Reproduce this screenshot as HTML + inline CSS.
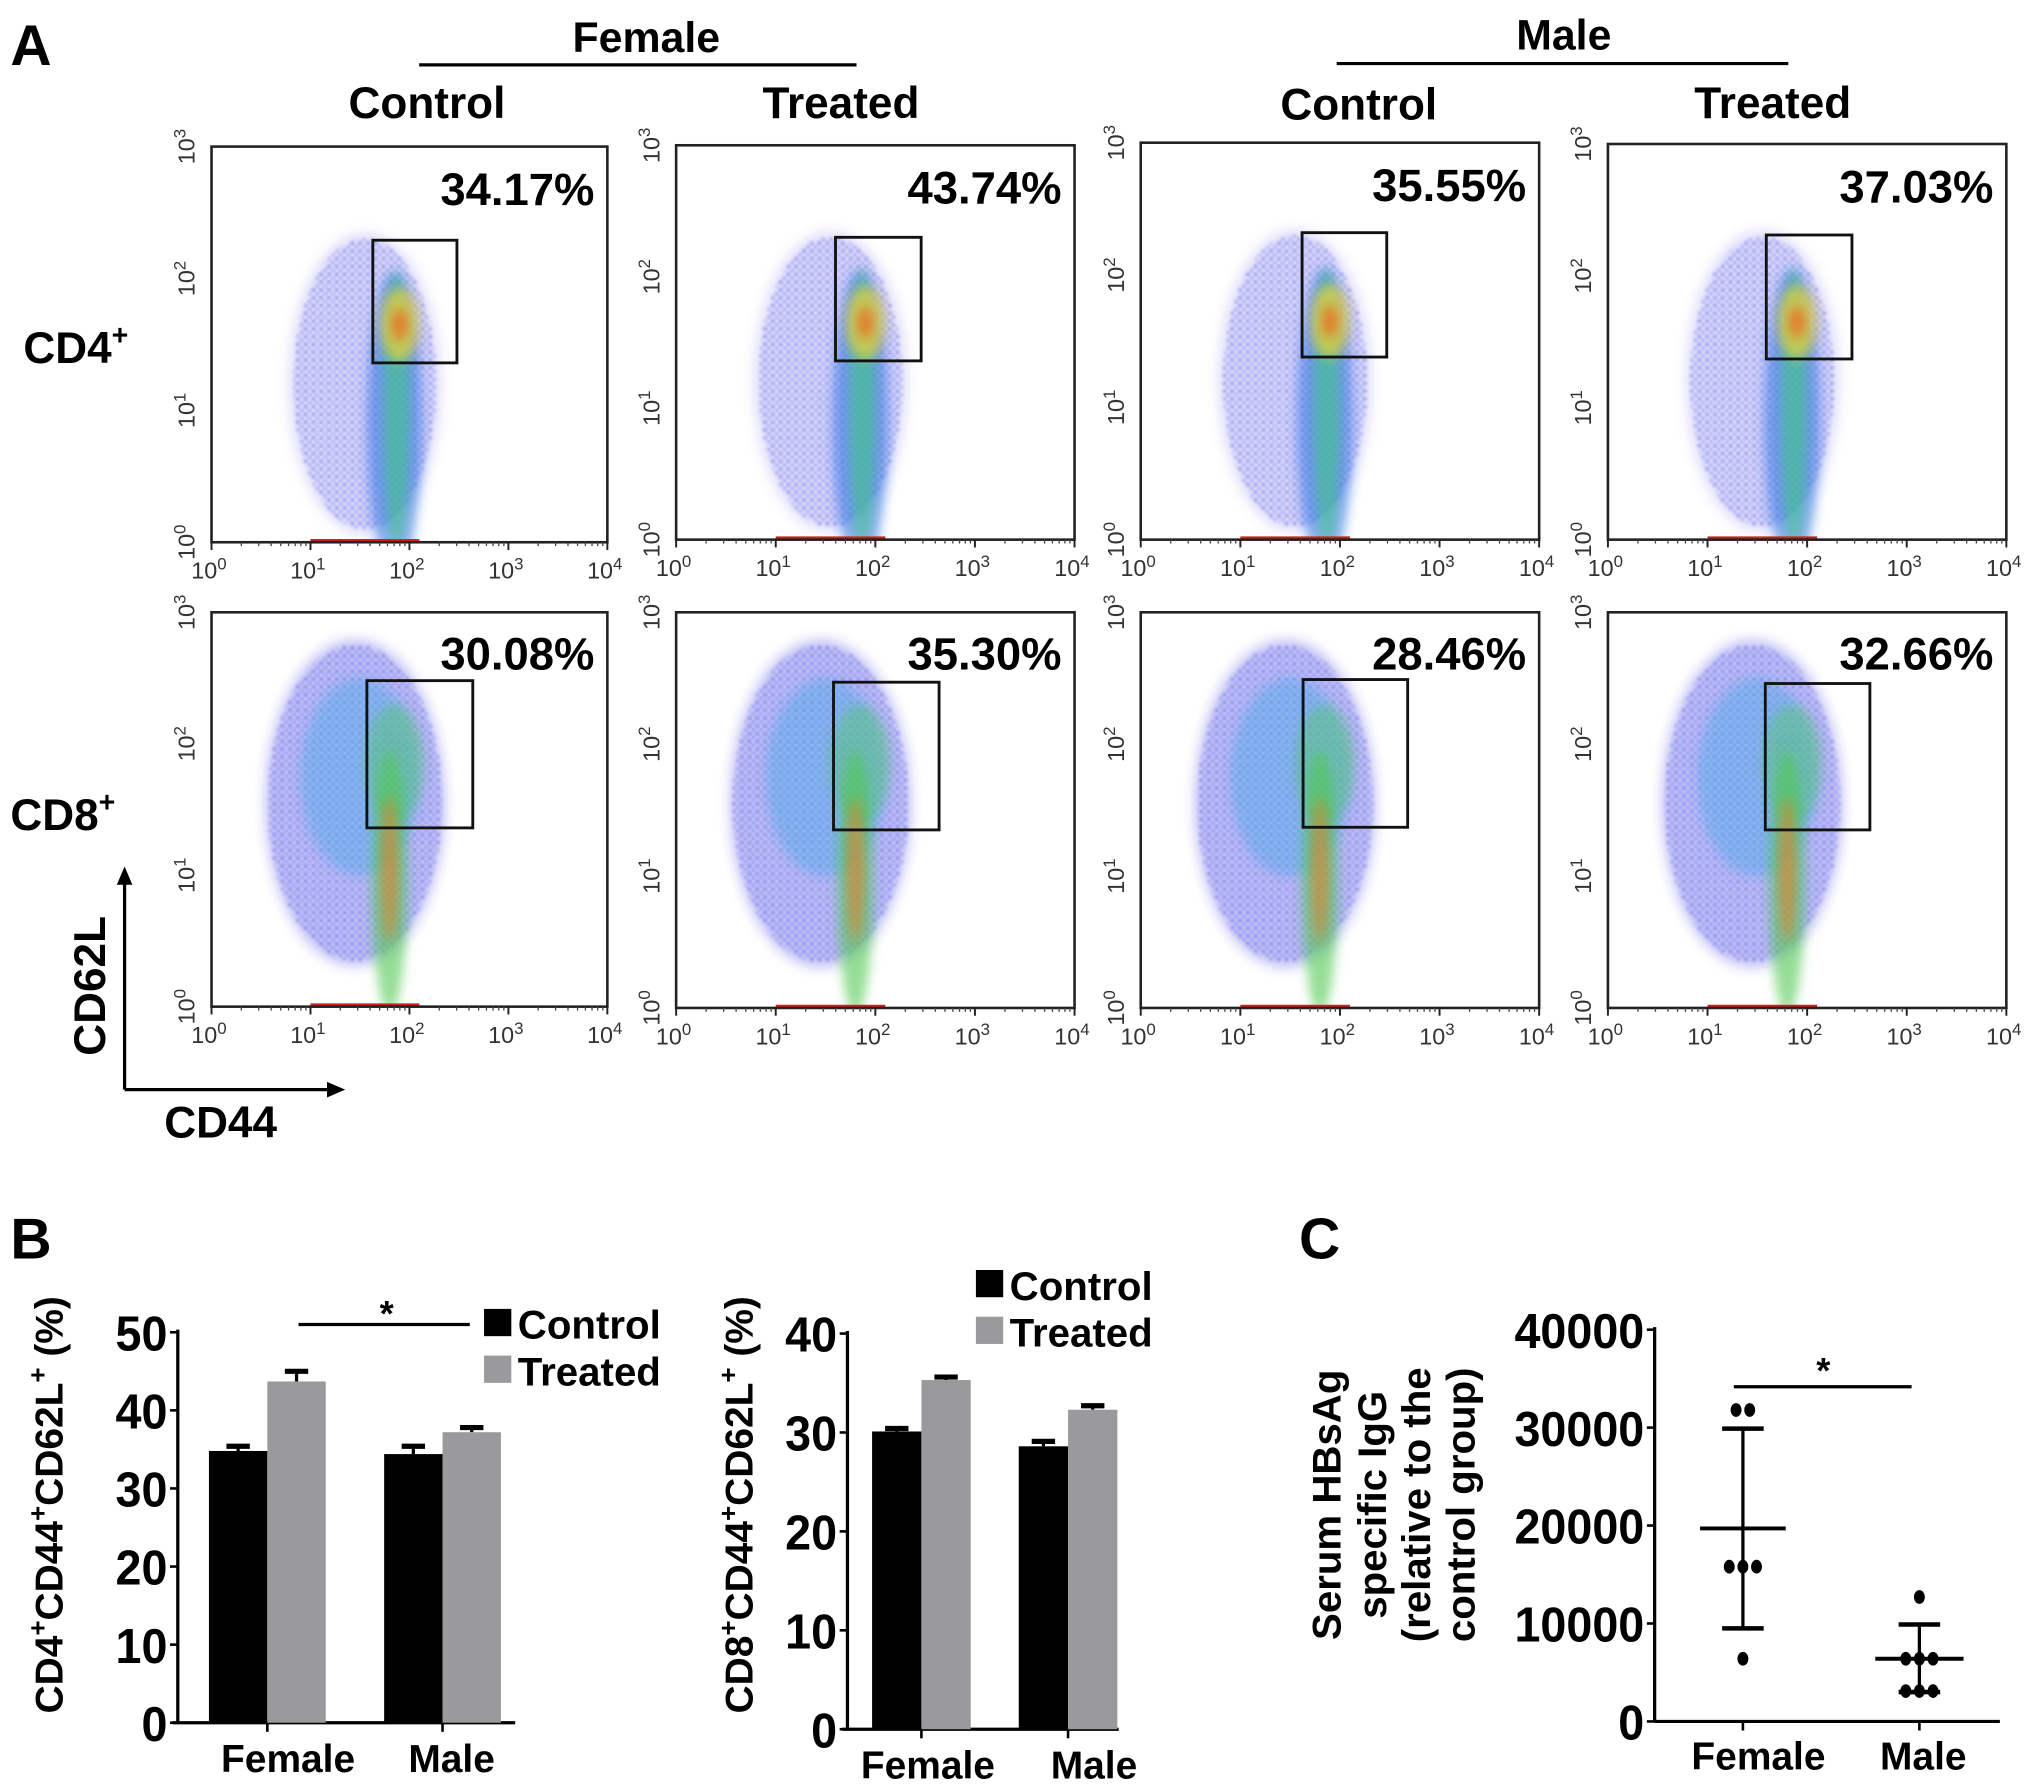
<!DOCTYPE html>
<html><head><meta charset="utf-8"><style>
html,body{margin:0;padding:0;background:#fff;}
svg{display:block;font-family:"Liberation Sans",Arial,sans-serif;}
</style></head><body>
<svg id="fig" width="2031" height="1785" viewBox="0 0 1565 1376" preserveAspectRatio="none" xmlns="http://www.w3.org/2000/svg">
<defs>
<pattern id="dots" width="6" height="6" patternUnits="userSpaceOnUse">
<circle cx="1.5" cy="1.5" r="1" fill="#2a2ad8"/><circle cx="4.5" cy="4.5" r="0.9" fill="#3b3bf0"/>
</pattern>
<filter id="blur" x="-30%" y="-30%" width="160%" height="160%"><feGaussianBlur stdDeviation="4"/></filter>
<filter id="blur2" x="-30%" y="-30%" width="160%" height="160%"><feGaussianBlur stdDeviation="1.2"/></filter>
</defs>
<g font-weight="bold" fill="#000">
<text x="8" y="50" font-size="44">A</text>
<text x="498" y="40" font-size="33" text-anchor="middle">Female</text>
<line x1="323" y1="50" x2="660" y2="50" stroke="#000" stroke-width="2.5"/>
<text x="1205" y="38" font-size="33" text-anchor="middle">Male</text>
<line x1="1030" y1="49" x2="1378" y2="49" stroke="#000" stroke-width="2.5"/>
<text x="329" y="91" font-size="34" text-anchor="middle">Control</text>
<text x="648" y="91" font-size="34" text-anchor="middle">Treated</text>
<text x="1047" y="92" font-size="34" text-anchor="middle">Control</text>
<text x="1366" y="91" font-size="34" text-anchor="middle">Treated</text>
<text x="18" y="280" font-size="34">CD4<tspan dy="-14" font-size="22">+</tspan></text>
<text x="8" y="640" font-size="34">CD8<tspan dy="-14" font-size="22">+</tspan></text>
<text x="8" y="970" font-size="44">B</text>
<text x="1001" y="970" font-size="44">C</text>
</g>
<g>
<line x1="96" y1="840" x2="96" y2="675" stroke="#000" stroke-width="2.5"/>
<polygon points="96,668 90,682 102,682" fill="#000"/>
<line x1="96" y1="840" x2="258" y2="840" stroke="#000" stroke-width="2.5"/>
<polygon points="266,840 252,834 252,846" fill="#000"/>
<text x="0" y="0" font-size="34" font-weight="bold" text-anchor="middle" transform="translate(81,760) rotate(-90)">CD62L</text>
<text x="170" y="877" font-size="34" font-weight="bold" text-anchor="middle">CD44</text>
</g>
<g id="flow"></g>
<g id="barL"></g>
<g id="barR"></g>
<g id="dotC"></g>
</svg>
<script>
// ---------- Panel A data ----------
const flowNames = ['female-control-cd4','female-treated-cd4','male-control-cd4','male-treated-cd4','female-control-cd8','female-treated-cd8','male-control-cd8','male-treated-cd8'];
const flowPercents = ['34.17%','43.74%','35.55%','37.03%','30.08%','35.30%','28.46%','32.66%'];
const gateXLow = [1.63,1.60,1.62,1.59,1.57,1.58,1.63,1.58];
const gateXHigh = [2.48,2.46,2.47,2.45,2.64,2.64,2.68,2.63];
const gateYLow = [1.36,1.36,1.38,1.37,1.36,1.35,1.37,1.35];
const gateYHigh = [2.29,2.30,2.32,2.31,2.48,2.47,2.49,2.46];
const xTickExp = [0,1,2,3,4];
const yTickExp = [0,1,2,3];
// ---------- Panel B data ----------
const barCategories = ['Female','Male'];
const cd4Control = [34.8,34.4];
const cd4ControlErr = [0.6,1.0];
const cd4Treated = [43.7,37.2];
const cd4TreatedErr = [1.3,0.6];
const cd4Ticks = [0,10,20,30,40,50];
const cd8Control = [30.1,28.6];
const cd8ControlErr = [0.3,0.5];
const cd8Treated = [35.3,32.3];
const cd8TreatedErr = [0.3,0.4];
const cd8Ticks = [0,10,20,30,40];
// ---------- Panel C data ----------
const dotCategories = ['Female','Male'];
const femaleValues = [31800,31800,15800,15800,15800,6400];
const maleValues = [12700,6400,6400,6400,3100,3100,3100];
const femaleMean = 19700, femaleSdHigh = 29900, femaleSdLow = 9500;
const maleMean = 6400, maleSdHigh = 9900, maleSdLow = 3000;
const cTicks = [0,10000,20000,30000,40000];

const NS='http://www.w3.org/2000/svg';
function mk(tag, attrs, parent){const e=document.createElementNS(NS,tag);for(const k in attrs)e.setAttribute(k,attrs[k]);if(parent)parent.appendChild(e);return e;}

// ---- flow plots ----
const boxes=[[163,113,468,418],[521,112,828,416],[879,110,1186,416],[1239,111,1546,416],
             [163,472,468,776],[521,472,828,777],[879,472,1186,777],[1239,472,1546,777]];
const flow=document.getElementById('fig').querySelector('#flow');
boxes.forEach((b,i)=>{
  const [x0,y0,x1,y1]=b;const w=x1-x0,h=y1-y0;
  const sx=d=>x0+d*w/4, sy=d=>y1-d*h/3;
  const g=mk('g',{},flow);
  
  
  const cid='clip'+i;
  const cp=mk('clipPath',{id:cid},g);mk('rect',{x:x0,y:y0,width:w,height:h},cp);
  const cl=mk('g',{'clip-path':'url(#'+cid+')'},g);
  const row2=i>=4;
  const E=(cx,cy,rx,ry,fill,f)=>mk('ellipse',{cx:sx(cx),cy:sy(cy),rx:rx*w/4,ry:ry*h/3,fill:fill,filter:f||'url(#blur)'},cl);
  if(!row2){
    E(1.55,1.2,0.78,1.15,'rgba(90,90,235,0.18)');
    E(1.55,1.2,0.72,1.1,'url(#dots)','url(#blur2)');
    E(1.85,0.9,0.28,1.15,'rgba(40,110,225,0.55)');
    E(1.87,1.0,0.13,1.05,'rgba(60,200,130,0.6)');
    E(1.9,1.65,0.2,0.28,'rgba(235,210,50,0.7)');
    E(1.9,1.65,0.08,0.12,'rgba(240,100,30,0.75)');
  } else {
    E(1.45,1.55,0.92,1.25,'rgba(60,60,225,0.28)');
    E(1.45,1.55,0.88,1.2,'url(#dots)','url(#blur2)');
    E(1.5,1.75,0.6,0.75,'rgba(40,170,225,0.35)');
    E(1.85,1.85,0.3,0.45,'rgba(80,200,100,0.45)');
    E(1.8,0.95,0.18,1.0,'rgba(80,200,80,0.6)');
    E(1.8,1.05,0.08,0.55,'rgba(240,120,30,0.6)');
  }
  mk('line',{x1:sx(1.0),y1:y1-1,x2:sx(2.1),y2:y1-1,stroke:'#d02020','stroke-width':3},cl);
  const frame=mk('rect',{x:x0,y:y0,width:w,height:h,fill:'none',stroke:'#222','stroke-width':2},g);
  
  
  const gate=mk('rect',{x:sx(gateXLow[i]),y:sy(gateYHigh[i]),width:sx(gateXHigh[i])-sx(gateXLow[i]),height:sy(gateYLow[i])-sy(gateYHigh[i]),fill:'none',stroke:'#111','stroke-width':2.2},g);
  
  
  const pct=mk('text',{x:x1-10,y:y0+(row2?44:45),'font-size':35,'font-weight':'bold','text-anchor':'end'},g);
  pct.textContent=flowPercents[i];
  
  
  xTickExp.forEach(e=>{
    mk('line',{x1:sx(e),y1:y1,x2:sx(e),y2:y1+6,stroke:'#222','stroke-width':1.5},g);
    if(e<4)for(let m=2;m<10;m++){const xx=sx(e+Math.log10(m));mk('line',{x1:xx,y1:y1,x2:xx,y2:y1+3,stroke:'#444','stroke-width':1},g);}
    const t=mk('text',{x:sx(e)-2,y:y1+28,'font-size':18,fill:'#333','text-anchor':'middle'},g);
    t.textContent='10';const s=mk('tspan',{dy:-7,'font-size':13},t);s.textContent=String(e);
    
    
  });
  yTickExp.forEach(e=>{
    const t=mk('text',{x:0,y:0,'font-size':18,fill:'#333','text-anchor':'middle',transform:'translate('+(x0-13)+','+sy(e)+') rotate(-90)'},g);
    t.textContent='10';const s=mk('tspan',{dy:-7,'font-size':13},t);s.textContent=String(e);
    
    
  });
});

// condensed right-aligned label
function tickLabel(g,xr,y,v,cw){
  const len=String(v).length*cw;
  const t=mk('text',{x:xr-len,y:y,'font-size':38,'font-weight':'bold',textLength:len,lengthAdjust:'spacingAndGlyphs'},g);
  t.textContent=v;
  return t;
}

// ---- bar charts ----
function barChart(gid,opt){
  const g=document.getElementById(gid);
  
  
  const sy=v=>opt.yb-(v/opt.max)*(opt.yb-opt.yt);
  mk('line',{x1:opt.ax,y1:opt.yt-2,x2:opt.ax,y2:opt.yb,stroke:'#000','stroke-width':2.5},g);
  mk('line',{x1:opt.ax-4,y1:opt.yb,x2:opt.axEnd,y2:opt.yb,stroke:'#000','stroke-width':2.5},g);
  opt.ticks.forEach(v=>{
    mk('line',{x1:opt.ax-6,y1:sy(v),x2:opt.ax,y2:sy(v),stroke:'#000','stroke-width':2},g);
    const t=tickLabel(g,opt.ax-8,sy(v)+14,v,20);
    
    
  });
  opt.cats.forEach((c,i)=>{
    const cx=opt.cx[i];
    mk('line',{x1:cx,y1:opt.yb,x2:cx,y2:opt.yb+7,stroke:'#000','stroke-width':2},g);
    const t=mk('text',{x:cx+opt.labOff[i],y:opt.yb+38,'font-size':30,'font-weight':'bold','text-anchor':'middle'},g);
    t.textContent=c;
    
    
    [[opt.ctrl,opt.ctrlErr,'#000',-1,'control'],[opt.trt,opt.trtErr,'#9a9a9c',0,'treated']].forEach(([vals,errs,col,off,nm])=>{
      const x=cx+off*opt.bw;
      const yv=sy(vals[i]),ye=sy(vals[i]+errs[i]);
      mk('line',{x1:x+opt.bw/2,y1:yv,x2:x+opt.bw/2,y2:ye,stroke:'#000','stroke-width':2.5},g);
      mk('line',{x1:x+opt.bw/2-9,y1:ye,x2:x+opt.bw/2+9,y2:ye,stroke:'#000','stroke-width':4},g);
      const r=mk('rect',{x:x,y:yv,width:opt.bw,height:opt.yb-yv,fill:col},g);
      
      
    });
  });
  const yt=mk('text',{x:0,y:0,'font-size':30,'font-weight':'bold','text-anchor':'middle',transform:'translate('+opt.titleX+','+opt.titleY+') rotate(-90)'},g);
  yt.innerHTML=opt.title;
  
  
  [['Control','#000',opt.legY],['Treated','#9a9a9c',opt.legY+36]].forEach(([lab,col,ly])=>{
    const lg=mk('g',{},g);
    
    
    mk('rect',{x:opt.legX,y:ly-23,width:21,height:21,fill:col},lg);
    const t=mk('text',{x:opt.legX+26,y:ly,'font-size':31,'font-weight':'bold'},lg);t.textContent=lab;
  });
  return sy;
}
barChart('barL',{name:'cd4-bar-chart',ax:137,axEnd:397,yt:1027,yb:1328,max:50,ticks:cd4Ticks,cats:barCategories,cx:[206,341],labOff:[16,7],bw:45,
  ctrl:cd4Control,ctrlErr:cd4ControlErr,trt:cd4Treated,trtErr:cd4TreatedErr,titleX:48,titleY:1160,
  title:'CD4<tspan dy="-12" font-size="20">+</tspan><tspan dy="12">CD44</tspan><tspan dy="-12" font-size="20">+</tspan><tspan dy="12">CD62L</tspan><tspan dy="-12" font-size="20">+</tspan><tspan dy="12"> (%)</tspan>',legX:373,legY:1032});
const gL=document.getElementById('barL');
mk('line',{x1:230,y1:1021,x2:362,y2:1021,stroke:'#000','stroke-width':2.5},gL);
const stL=mk('text',{x:298,y:1022,'font-size':28,'font-weight':'bold','text-anchor':'middle'},gL);stL.textContent='*';


barChart('barR',{name:'cd8-bar-chart',ax:653,axEnd:862,yt:1028,yb:1333,max:40,ticks:cd8Ticks,cats:barCategories,cx:[710,823],labOff:[5,20],bw:38,
  ctrl:cd8Control,ctrlErr:cd8ControlErr,trt:cd8Treated,trtErr:cd8TreatedErr,titleX:580,titleY:1160,
  title:'CD8<tspan dy="-12" font-size="20">+</tspan><tspan dy="12">CD44</tspan><tspan dy="-12" font-size="20">+</tspan><tspan dy="12">CD62L</tspan><tspan dy="-12" font-size="20">+</tspan><tspan dy="12"> (%)</tspan>',legX:752,legY:1002});

// ---- dot plot ----
(function(){
  const g=document.getElementById('dotC');
  
  
  const ax=1275,yt=1025,yb=1327,max=40000;
  const sy=v=>yb-(v/max)*(yb-yt);
  const cx=[1343,1479];
  const labX=[1355,1482];
  mk('line',{x1:ax,y1:yt-2,x2:ax,y2:yb,stroke:'#000','stroke-width':2.5},g);
  mk('line',{x1:ax,y1:yb,x2:1541,y2:yb,stroke:'#000','stroke-width':2.5},g);
  cTicks.forEach(v=>{
    mk('line',{x1:ax-6,y1:sy(v),x2:ax,y2:sy(v),stroke:'#000','stroke-width':2},g);
    const t=tickLabel(g,ax-8,sy(v)+14,v,20);
    
    
  });
  dotCategories.forEach((c,i)=>{
    mk('line',{x1:cx[i],y1:yb,x2:cx[i],y2:yb+7,stroke:'#000','stroke-width':2},g);
    const t=mk('text',{x:labX[i],y:yb+37,'font-size':30,'font-weight':'bold','text-anchor':'middle'},g);t.textContent=c;
    
    
  });
  function group(vals,mean,hi,lo,x,meanHalf,capHalf){
    mk('line',{x1:x,y1:sy(hi),x2:x,y2:sy(lo),stroke:'#000','stroke-width':2.5},g);
    mk('line',{x1:x-capHalf,y1:sy(hi),x2:x+capHalf,y2:sy(hi),stroke:'#000','stroke-width':3.5},g);
    mk('line',{x1:x-capHalf,y1:sy(lo),x2:x+capHalf,y2:sy(lo),stroke:'#000','stroke-width':3.5},g);
    mk('line',{x1:x-meanHalf,y1:sy(mean),x2:x+meanHalf,y2:sy(mean),stroke:'#000','stroke-width':3},g);
    const counts={};vals.forEach(v=>counts[v]=(counts[v]||0)+1);
    const seen={};
    vals.forEach(v=>{
      const n=counts[v];const k=seen[v]=(seen[v]||0)+1;
      const dx=(k-(n+1)/2)*10.5;
      const d=mk('ellipse',{cx:x+dx,cy:sy(v),rx:4.2,ry:5.3,fill:'#000'},g);
      
      
    });
  }
  group(femaleValues,femaleMean,femaleSdHigh,femaleSdLow,cx[0],33,16);
  group(maleValues,maleMean,maleSdHigh,maleSdLow,cx[1],34,16);
  mk('line',{x1:1336,y1:1069,x2:1473,y2:1069,stroke:'#000','stroke-width':2.5},g);
  const st=mk('text',{x:1405,y:1066,'font-size':28,'font-weight':'bold','text-anchor':'middle'},g);st.textContent='*';
  
  
  const lines=['Serum  HBsAg','specific IgG','(relative to the','control group)'];
  const yx=[1033,1068,1102,1136];
  lines.forEach((l,i)=>{
    const t=mk('text',{x:0,y:0,'font-size':31,'font-weight':'bold','text-anchor':'middle',transform:'translate('+yx[i]+',1160) rotate(-90)'},g);t.textContent=l;
    
    
  });
})();
</script>
</body></html>
